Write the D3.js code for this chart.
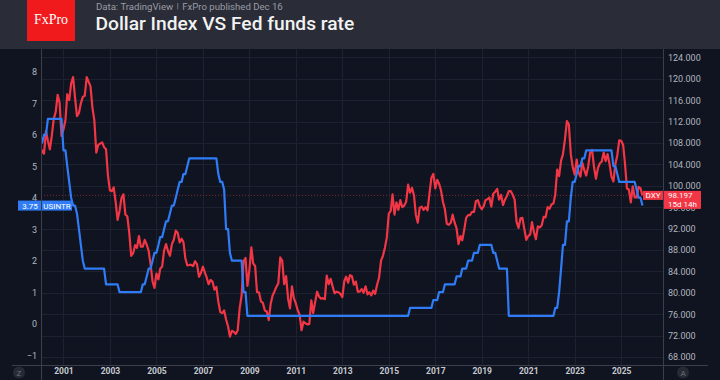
<!DOCTYPE html>
<html><head><meta charset="utf-8">
<script src="https://cdn.jsdelivr.net/npm/d3@7"></script>
<style>html,body{margin:0;padding:0;background:#0f1420;}svg{display:block;font-family:Roboto,"Noto Sans",sans-serif;}</style>
</head><body><svg id="c" width="720" height="380"></svg>
<script>
// ---- data (monthly, Jan 2000 .. Dec 2025) ----
const startYear = 2000;
const fedRate = [
 5.75,5.75,6.0,6.0,6.5,6.5,6.5,6.5,6.5,6.5,6.5,6.5,
 5.5,5.5,5.0,4.5,4.0,3.75,3.75,3.5,3.0,2.5,2.0,1.75,
 1.75,1.75,1.75,1.75,1.75,1.75,1.75,1.75,1.75,1.75,1.25,1.25,
 1.25,1.25,1.25,1.25,1.25,1.0,1.0,1.0,1.0,1.0,1.0,1.0,
 1.0,1.0,1.0,1.0,1.0,1.25,1.25,1.5,1.75,1.75,2.0,2.25,
 2.25,2.5,2.75,2.75,3.0,3.25,3.25,3.5,3.75,3.75,4.0,4.25,
 4.5,4.5,4.75,4.75,5.0,5.25,5.25,5.25,5.25,5.25,5.25,5.25,
 5.25,5.25,5.25,5.25,5.25,5.25,5.25,5.25,4.75,4.5,4.5,4.25,
 3.0,3.0,2.25,2.0,2.0,2.0,2.0,2.0,2.0,1.0,1.0,0.25,
 0.25,0.25,0.25,0.25,0.25,0.25,0.25,0.25,0.25,0.25,0.25,0.25,
 0.25,0.25,0.25,0.25,0.25,0.25,0.25,0.25,0.25,0.25,0.25,0.25,
 0.25,0.25,0.25,0.25,0.25,0.25,0.25,0.25,0.25,0.25,0.25,0.25,
 0.25,0.25,0.25,0.25,0.25,0.25,0.25,0.25,0.25,0.25,0.25,0.25,
 0.25,0.25,0.25,0.25,0.25,0.25,0.25,0.25,0.25,0.25,0.25,0.25,
 0.25,0.25,0.25,0.25,0.25,0.25,0.25,0.25,0.25,0.25,0.25,0.25,
 0.25,0.25,0.25,0.25,0.25,0.25,0.25,0.25,0.25,0.25,0.25,0.5,
 0.5,0.5,0.5,0.5,0.5,0.5,0.5,0.5,0.5,0.5,0.5,0.75,
 0.75,0.75,1.0,1.0,1.0,1.25,1.25,1.25,1.25,1.25,1.25,1.5,
 1.5,1.5,1.75,1.75,1.75,2.0,2.0,2.0,2.25,2.25,2.25,2.5,
 2.5,2.5,2.5,2.5,2.5,2.5,2.25,2.25,2.0,1.75,1.75,1.75,
 1.75,1.75,0.25,0.25,0.25,0.25,0.25,0.25,0.25,0.25,0.25,0.25,
 0.25,0.25,0.25,0.25,0.25,0.25,0.25,0.25,0.25,0.25,0.25,0.25,
 0.25,0.25,0.5,0.5,1.0,1.75,2.5,2.5,3.25,3.25,4.0,4.5,
 4.5,4.75,5.0,5.0,5.25,5.25,5.5,5.5,5.5,5.5,5.5,5.5,
 5.5,5.5,5.5,5.5,5.5,5.5,5.5,5.5,5.0,5.0,4.75,4.5,
 4.5,4.5,4.5,4.5,4.5,4.5,4.5,4.5,4.25,4.0,4.0,3.75
];
const dxy = [
 105.5,106.6,106.0,110.2,108.4,106.8,109.3,112.5,113.8,117.0,115.5,109.3,
 110.5,112.3,117.1,116.0,119.1,120.3,116.5,113.0,113.6,115.4,116.6,116.8,
 120.3,119.4,118.6,114.6,112.2,106.2,107.6,107.9,108.1,107.2,106.8,101.9,
 99.1,99.0,99.7,97.0,93.6,95.3,97.7,98.4,94.6,94.3,91.2,86.9,
 87.4,88.9,88.4,90.6,88.6,88.6,89.9,89.0,87.8,85.3,82.1,80.9,
 83.6,82.5,84.5,84.9,87.9,89.1,87.8,86.9,89.1,89.9,91.6,91.2,
 89.4,90.1,89.5,86.4,85.1,85.2,85.2,85.0,85.9,85.3,83.0,83.7,
 84.9,83.8,82.9,81.6,82.4,82.1,80.6,81.1,78.3,76.4,76.2,76.7,
 75.0,73.7,71.8,72.9,72.7,72.3,73.0,77.1,79.5,85.9,86.5,81.3,
 84.3,88.5,85.5,85.0,80.1,80.1,78.4,78.1,76.7,76.5,74.9,77.9,
 79.5,80.3,81.1,81.8,86.6,86.0,81.6,83.1,78.9,77.1,81.2,79.0,
 78.0,76.7,75.9,73.0,74.6,74.3,74.1,74.2,78.6,76.2,78.3,80.2,
 79.3,78.9,79.0,78.8,83.2,81.6,82.6,81.2,79.9,80.2,80.1,79.8,
 79.2,82.2,83.0,81.9,83.3,83.1,81.5,82.1,80.2,80.2,80.7,80.0,
 81.2,79.7,80.1,79.5,80.4,79.8,81.5,82.8,86.0,86.9,88.4,90.3,
 94.8,95.3,98.4,94.6,96.9,95.5,97.3,96.0,96.3,97.0,100.2,98.7,
 99.6,98.2,94.6,93.1,95.9,96.1,95.5,96.0,95.4,98.5,101.5,102.2,
 99.5,101.1,100.4,99.1,97.0,95.6,92.9,92.7,93.1,94.6,93.1,92.1,
 89.1,90.6,89.8,91.8,94.0,94.5,94.5,95.1,95.1,97.1,97.3,96.2,
 95.6,96.2,97.3,97.5,97.8,96.1,98.5,98.9,99.4,97.4,98.3,96.4,
 97.4,98.1,99.0,99.0,98.3,97.4,93.3,92.1,93.9,94.0,91.9,89.9,
 90.6,90.9,93.2,91.3,90.0,92.4,92.2,92.6,94.2,94.1,96.0,95.7,
 96.5,96.7,98.3,103.0,101.8,104.7,105.9,108.7,112.1,111.5,105.9,103.5,
 102.1,104.9,102.5,101.7,104.3,102.9,101.9,103.6,106.2,106.7,103.5,101.3,
 103.3,104.2,104.5,106.2,104.6,105.9,104.1,101.7,100.8,104.0,105.7,108.5,
 108.4,107.6,104.2,99.5,99.3,96.9,99.9,97.8,97.8,99.8,99.5,98.197
];
const xTickYears = [2001,2003,2005,2007,2009,2011,2013,2015,2017,2019,2021,2023,2025];
const leftTicks = [-1,0,1,2,3,4,5,6,7,8];
const rightTicks = [68,72,76,80,84,88,92,96,100,104,108,112,116,120,124];
const titleText = "Dollar Index VS Fed funds rate";
const subtitleText = "Data: TradingView";
const subtitleText2 = "FxPro published Dec 16";
const lastFed = "3.75", fedName = "USINTR";
const lastDxy = "98.197", dxyName = "DXY", dxyCountdown = "15d 14h";

// ---- layout ----
const svg = d3.select("#c");
const W = 720, H = 380;
const plotL = 41, plotR = 663, plotT = 49, plotB = 365;

svg.append("rect").attr("width", W).attr("height", H).attr("fill", "#0f1420");
svg.append("rect").attr("width", W).attr("height", plotT).attr("fill", "#2a2d37");

// logo
svg.append("rect").attr("x", 27).attr("y", 0).attr("width", 48).attr("height", 41).attr("fill", "#f0191b");
svg.append("text").attr("x", 51).attr("y", 24).attr("text-anchor", "middle")
  .attr("font-family", "'Liberation Serif','DejaVu Serif',serif").attr("font-size", 14)
  .attr("fill", "#fff").text("FxPro");
// titles
const st1 = svg.append("text").attr("x", 96).attr("y", 10).attr("font-size", 9.6).attr("fill", "#9a9ca4").text(subtitleText);
const w1 = st1.node().getComputedTextLength();
svg.append("line").attr("x1", 96 + w1 + 4.5).attr("x2", 96 + w1 + 4.5).attr("y1", 3).attr("y2", 9.5).attr("stroke", "#6f727c");
svg.append("text").attr("x", 96 + w1 + 9).attr("y", 10).attr("font-size", 9.6).attr("fill", "#9a9ca4").text(subtitleText2);
svg.append("text").attr("x", 95.5).attr("y", 30).attr("font-size", 19.2).attr("font-weight", 500).attr("fill", "#f2f2f2").text(titleText);

// ---- scales ----
const dates = d3.range(fedRate.length).map(i => new Date(startYear + Math.floor(i / 12), i % 12, 1));
const x = d3.scaleTime().domain([new Date(2000, 0, 1), new Date(2026, 9, 20)]).range([plotL - 0.8, plotR]);
const yL = d3.scaleLinear().domain([0, 8]).range([323.7, 71.7]);
const yR = d3.scaleLinear().domain([68, 124]).range([357, 57.3]);

const plot = svg.append("g");
plot.append("defs").append("clipPath").attr("id", "clip")
  .append("rect").attr("x", plotL).attr("y", plotT).attr("width", plotR - plotL).attr("height", plotB - plotT);

// grid
const grid = plot.append("g").attr("stroke", "#1c222f").attr("stroke-width", 1);
grid.selectAll(".h").data(rightTicks).join("line")
  .attr("x1", plotL).attr("x2", plotR).attr("y1", d => Math.round(yR(d)) + 0.5).attr("y2", d => Math.round(yR(d)) + 0.5);
grid.selectAll(".v").data(xTickYears).join("line")
  .attr("x1", d => Math.round(x(new Date(d, 0, 1))) + 0.5).attr("x2", d => Math.round(x(new Date(d, 0, 1))) + 0.5)
  .attr("y1", plotT).attr("y2", plotB);

// axes frame
const frame = svg.append("g").attr("stroke", "#3a3f4b").attr("stroke-width", 1);
frame.append("line").attr("x1", plotL + 0.5).attr("x2", plotL + 0.5).attr("y1", plotT).attr("y2", H);
frame.append("line").attr("x1", plotR + 0.5).attr("x2", plotR + 0.5).attr("y1", plotT).attr("y2", H);
frame.append("line").attr("x1", 12).attr("x2", 708).attr("y1", plotB + 0.5).attr("y2", plotB + 0.5);

// left axis
const axL = d3.axisLeft(yL).tickValues(leftTicks).tickSize(0).tickPadding(0).tickFormat(d => d < 0 ? "\u22121" : d);
const gL = svg.append("g").attr("transform", `translate(${plotL - 4},0)`).call(axL);
gL.select(".domain").remove();
gL.selectAll("text").attr("fill", "#b2b5be").attr("font-size", 9).attr("font-family", "Roboto,sans-serif");

// right axis
const axR = d3.axisRight(yR).tickValues(rightTicks).tickSize(0).tickPadding(0).tickFormat(d3.format(".3f"));
const gR = svg.append("g").attr("transform", `translate(${plotR + 5},0)`).call(axR);
gR.select(".domain").remove();
gR.selectAll("text").attr("fill", "#b2b5be").attr("font-size", 9).attr("font-family", "Roboto,sans-serif");

// bottom axis
const axB = d3.axisBottom(x).tickValues(xTickYears.map(y => new Date(y, 0, 1))).tickSize(0).tickPadding(0).tickFormat(d3.timeFormat("%Y"));
const gB = svg.append("g").attr("transform", `translate(0,${plotB + 3})`).call(axB);
gB.select(".domain").remove();
gB.selectAll("text").attr("fill", "#c8cad0").attr("font-size", 8.5).attr("font-weight", 700).attr("font-family", "Roboto,sans-serif");

// corner buttons
[[19, "Z"], [683, "A"]].forEach(([cx, t]) => {
  svg.append("circle").attr("cx", cx).attr("cy", 372.5).attr("r", 6).attr("fill", "#262a35");
  svg.append("text").attr("x", cx).attr("y", 375.5).attr("text-anchor", "middle").attr("font-size", 8).attr("fill", "#6d717c").text(t);
});

// dotted last-price line for DXY
const lastY = yR(+lastDxy);
plot.append("line").attr("x1", plotL).attr("x2", plotR).attr("y1", lastY).attr("y2", lastY)
  .attr("stroke", "#7a2a33").attr("stroke-width", 1).attr("stroke-dasharray", "1,2");

// series
const lines = plot.append("g").attr("clip-path", "url(#clip)");
lines.append("path").datum(dxy).attr("fill", "none").attr("stroke", "#f23645").attr("stroke-width", 2.2)
  .attr("stroke-linejoin", "round")
  .attr("d", d3.line().x((d, i) => x(dates[i])).y(d => yR(d)));
lines.append("path").datum(fedRate).attr("fill", "none").attr("stroke", "#2f7cf6").attr("stroke-width", 2.2)
  .attr("stroke-linejoin", "round")
  .attr("d", d3.line().x((d, i) => x(dates[i])).y(d => yL(d)));

// USINTR label
const fy = yL(+lastFed);
svg.append("rect").attr("x", 18).attr("y", fy - 5).attr("width", 23).attr("height", 10).attr("fill", "#2f7cf6");
svg.append("rect").attr("x", 42).attr("y", fy - 5).attr("width", 30).attr("height", 10).attr("fill", "#2f7cf6");
svg.append("text").attr("x", 30).attr("y", fy + 3).attr("text-anchor", "middle").attr("font-size", 8).attr("fill", "#fff").text(lastFed);
svg.append("text").attr("x", 57).attr("y", fy + 3).attr("text-anchor", "middle").attr("font-size", 8).attr("fill", "#fff").text(fedName);

// DXY label
svg.append("rect").attr("x", 643).attr("y", lastY - 4.5).attr("width", 20).attr("height", 9).attr("fill", "#f23645");
svg.append("text").attr("x", 653).attr("y", lastY + 3).attr("text-anchor", "middle").attr("font-size", 8).attr("fill", "#fff").text(dxyName);
svg.append("rect").attr("x", 664).attr("y", lastY - 4.5).attr("width", 37).attr("height", 18).attr("fill", "#f23645");
svg.append("text").attr("x", 668).attr("y", lastY + 2.8).attr("font-size", 8).attr("fill", "#fff").text(lastDxy);
svg.append("text").attr("x", 668).attr("y", lastY + 11.8).attr("font-size", 8).attr("fill", "#fff").text(dxyCountdown);
</script></body></html>
